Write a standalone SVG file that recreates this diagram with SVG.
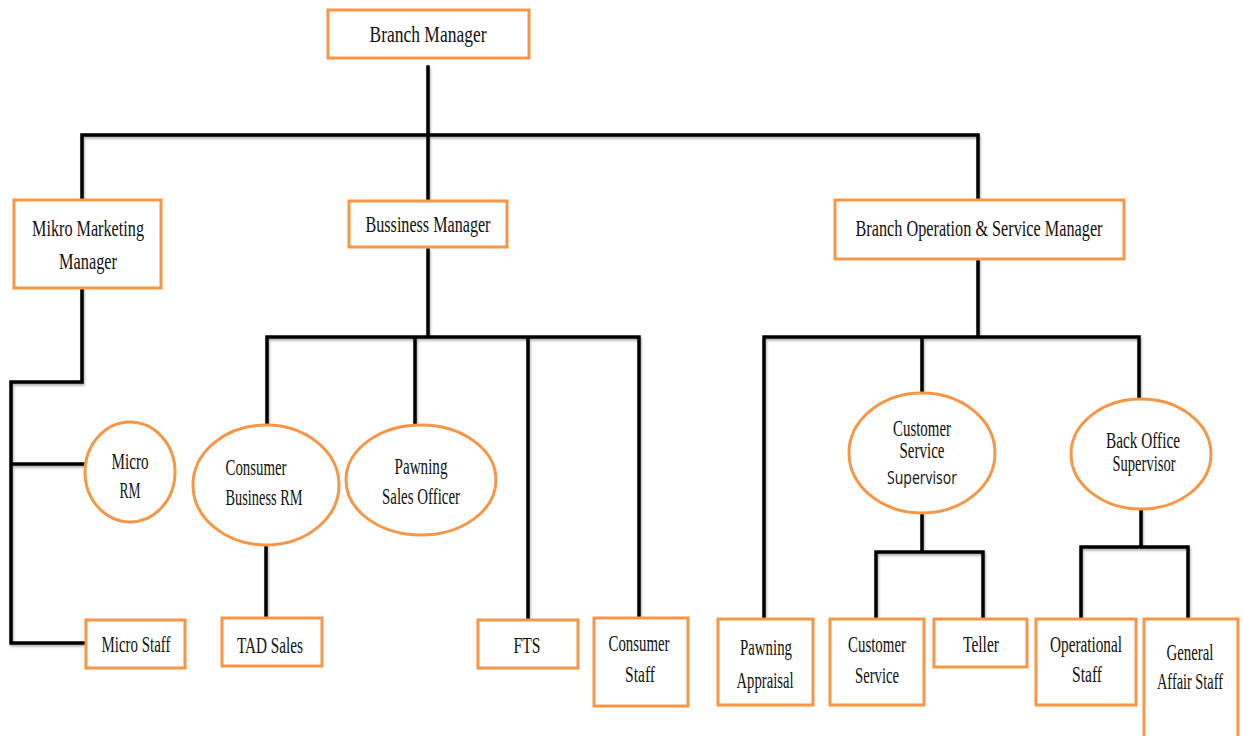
<svg xmlns="http://www.w3.org/2000/svg" width="1243" height="736" viewBox="0 0 1243 736">
<style>
.n{fill:#fff;stroke:#F79646;stroke-width:3}
.t{font-family:"Liberation Serif","Times New Roman",serif;font-size:23px;fill:#111;text-anchor:middle}
.s{font-family:"Open Sans","DejaVu Sans",sans-serif;font-size:18px;fill:#111;text-anchor:middle}
.c{fill:none;stroke:#000;stroke-width:3.5;stroke-linecap:square;stroke-linejoin:miter}
</style>
<defs>
<filter id="sh" x="-5%" y="-5%" width="110%" height="110%">
<feDropShadow dx="1" dy="2" stdDeviation="1.2" flood-color="#000" flood-opacity="0.3"/>
</filter>
</defs>
<rect width="1243" height="736" fill="#fff"/>
<g id="connectors" class="c" filter="url(#sh)">
<path d="M428 67V135M82 135H978M82 135V200M428 135V200M978 135V200"/>
<path d="M82 288V382H11V643H86M11 464H86"/>
<path d="M428 250V337M267 337H639M267 337V425M415 337V425M528 337V619M639 337V618"/>
<path d="M266 545V617"/>
<path d="M978 259V337M764 337H1139M764 337V618M922 337V393M1139 337V398"/>
<path d="M922 513V552M876 552H983M876 552V619M983 552V619"/>
<path d="M1141 509V547M1081 547H1188M1081 547V619M1188 547V619"/>
</g>
<g id="branch-manager"><rect class="n" x="328" y="10" width="201" height="48"/><text class="t" x="428" y="42" font-size="25" textLength="117" lengthAdjust="spacingAndGlyphs">Branch Manager</text></g>
<g id="mikro-marketing-manager"><rect class="n" x="14" y="200" width="147" height="88"/><text class="t" x="88" y="236" textLength="112" lengthAdjust="spacingAndGlyphs">Mikro Marketing</text><text class="t" x="88" y="269" textLength="58" lengthAdjust="spacingAndGlyphs">Manager</text></g>
<g id="bussiness-manager"><rect class="n" x="349" y="201" width="158" height="46"/><text class="t" x="428" y="232" textLength="125" lengthAdjust="spacingAndGlyphs">Bussiness Manager</text></g>
<g id="branch-operation-service-manager"><rect class="n" x="835" y="200" width="289" height="59"/><text class="t" x="979" y="236" textLength="247" lengthAdjust="spacingAndGlyphs">Branch Operation &amp; Service Manager</text></g>
<g id="micro-rm"><ellipse class="n" cx="130" cy="472" rx="45" ry="50"/><text class="t" x="130" y="469" font-size="21" textLength="37" lengthAdjust="spacingAndGlyphs">Micro</text><text class="t" x="130" y="498" font-size="21" textLength="21" lengthAdjust="spacingAndGlyphs">RM</text></g>
<g id="consumer-business-rm"><ellipse class="n" cx="266" cy="485" rx="73" ry="60"/><text class="t" x="256" y="475" font-size="21" textLength="61" lengthAdjust="spacingAndGlyphs">Consumer</text><text class="t" x="264" y="505" font-size="21" textLength="77" lengthAdjust="spacingAndGlyphs">Business RM</text></g>
<g id="pawning-sales-officer"><ellipse class="n" cx="421" cy="480" rx="75" ry="55"/><text class="t" x="421" y="474" font-size="21" textLength="53" lengthAdjust="spacingAndGlyphs">Pawning</text><text class="t" x="421" y="504" font-size="21" textLength="78" lengthAdjust="spacingAndGlyphs">Sales Officer</text></g>
<g id="micro-staff"><rect class="n" x="86" y="620" width="99" height="48"/><text class="t" x="136" y="652" font-size="21" textLength="69" lengthAdjust="spacingAndGlyphs">Micro Staff</text></g>
<g id="tad-sales"><rect class="n" x="222" y="618" width="100" height="48"/><text class="t" x="270" y="653" font-size="21" textLength="66" lengthAdjust="spacingAndGlyphs">TAD Sales</text></g>
<g id="fts"><rect class="n" x="478" y="620" width="100" height="48"/><text class="t" x="527" y="653" font-size="21" textLength="27" lengthAdjust="spacingAndGlyphs">FTS</text></g>
<g id="consumer-staff"><rect class="n" x="594" y="618" width="94" height="88"/><text class="t" x="639" y="651" font-size="21" textLength="61" lengthAdjust="spacingAndGlyphs">Consumer</text><text class="t" x="640" y="682" font-size="21" textLength="30" lengthAdjust="spacingAndGlyphs">Staff</text></g>
<g id="customer-service-supervisor"><ellipse class="n" cx="922" cy="453" rx="73" ry="60"/><text class="t" x="922" y="436" font-size="18" textLength="58" lengthAdjust="spacingAndGlyphs">Customer</text><text class="t" x="922" y="458" font-size="18" textLength="45" lengthAdjust="spacingAndGlyphs">Service</text><text class="s" x="922" y="484" textLength="70" lengthAdjust="spacingAndGlyphs">Supervisor</text></g>
<g id="back-office-supervisor"><ellipse class="n" cx="1141" cy="454" rx="70" ry="55"/><text class="t" x="1143" y="448" font-size="20" textLength="74" lengthAdjust="spacingAndGlyphs">Back Office</text><text class="t" x="1144" y="471" font-size="20" textLength="63" lengthAdjust="spacingAndGlyphs">Supervisor</text></g>
<g id="pawning-appraisal"><rect class="n" x="718" y="619" width="95" height="86"/><text class="t" x="766" y="655" font-size="21" textLength="52" lengthAdjust="spacingAndGlyphs">Pawning</text><text class="t" x="765" y="688" font-size="21" textLength="57" lengthAdjust="spacingAndGlyphs">Appraisal</text></g>
<g id="customer-service"><rect class="n" x="830" y="619" width="94" height="86"/><text class="t" x="877" y="652" font-size="21" textLength="58" lengthAdjust="spacingAndGlyphs">Customer</text><text class="t" x="877" y="683" font-size="21" textLength="44" lengthAdjust="spacingAndGlyphs">Service</text></g>
<g id="teller"><rect class="n" x="934" y="619" width="93" height="48"/><text class="t" x="981" y="652" font-size="21" textLength="36" lengthAdjust="spacingAndGlyphs">Teller</text></g>
<g id="operational-staff"><rect class="n" x="1036" y="619" width="100" height="86"/><text class="t" x="1086" y="652" font-size="21" textLength="72" lengthAdjust="spacingAndGlyphs">Operational</text><text class="t" x="1087" y="682" font-size="21" textLength="30" lengthAdjust="spacingAndGlyphs">Staff</text></g>
<g id="general-affair-staff"><rect class="n" x="1144" y="619" width="94" height="130"/><text class="t" x="1190" y="660" font-size="21" textLength="47" lengthAdjust="spacingAndGlyphs">General</text><text class="t" x="1190" y="689" font-size="21" textLength="66" lengthAdjust="spacingAndGlyphs">Affair Staff</text></g>
</svg>
